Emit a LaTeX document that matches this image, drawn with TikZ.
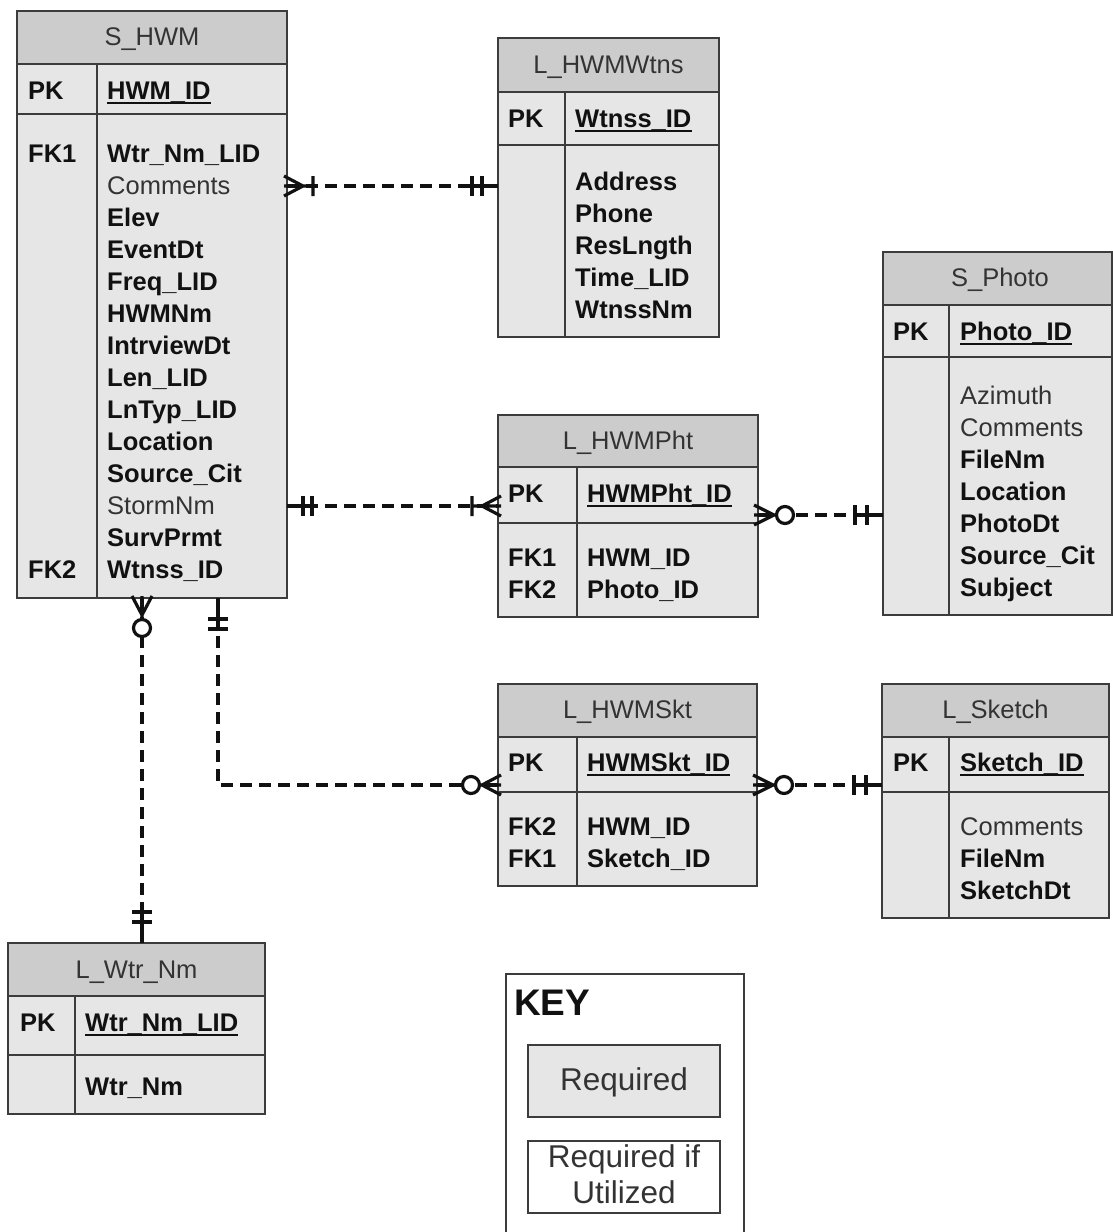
\documentclass[tikz,border=0pt]{standalone}
\usepackage{fontspec}
\setmainfont{Liberation Sans}
\usetikzlibrary{calc}
\definecolor{hdrc}{HTML}{CCCCCC}
\definecolor{bodyc}{HTML}{E6E6E6}
\definecolor{linec}{HTML}{3C3C3C}
\definecolor{txtc}{HTML}{111111}
\definecolor{regc}{HTML}{333333}
\definecolor{connc}{HTML}{111111}
\newcommand\bfl[1]{\textbf{\color{txtc}#1}}
\tikzset{
  tline/.style={draw=linec, line width=2.2pt},
  conn/.style={draw=connc, line width=3.2pt, dash pattern=on 12pt off 7pt},
  mk/.style={draw=connc, line width=3.2pt},
  ttl/.style={font=\fontsize{25.5}{30}\selectfont, text=regc, inner sep=0pt, anchor=base},
  fld/.style={font=\fontsize{25.5}{30}\selectfont\bfseries, text=txtc, inner sep=0pt, anchor=base west},
  rfld/.style={font=\fontsize{25.5}{30}\selectfont, text=regc, inner sep=0pt, anchor=base west},
  tbox/.style={fill=bodyc, inner sep=0pt, outer sep=0pt, anchor=north west},
  keytxt/.style={font=\fontsize{31.5}{36}\selectfont, text=regc, inner sep=0pt, anchor=base},
  uline/.style={draw=txtc, line width=2pt},
}
% #1 name, #2 x1, #3 top, #4 x2, #5 header bottom, #6 pk bottom, #7 bottom, #8 divider x
\newcommand\tbl[8]{%
  \node[tbox, minimum width={#4pt-#2pt}, minimum height={#7pt-#3pt}] (#1) at (#2,#3) {};
  \fill[hdrc] (#1.north west) rectangle (#1.east |- #2,#5);
  \draw[tline] (#1.west |- #2,#5) -- (#1.east |- #2,#5)
               (#1.west |- #2,#6) -- (#1.east |- #2,#6)
               (#8,#5) -- (#8,#7);
  \draw[tline] (#1.north west) rectangle (#1.south east);
}
\newcommand\fields[4]{%
  \foreach \t [count=\i from 0] in {#4} {\node[rfld] (#1-\i) at (#2, #3+32*\i) {\t};}}
\newcommand\pkline[1]{\draw[uline] ([yshift=-3.5pt]#1.base west) -- ([yshift=-3.5pt]#1.base east);}
\newcommand\relmark[3]{\begin{scope}[shift={(#1)},rotate=#2] #3 \end{scope}}
\begin{document}
\begin{tikzpicture}[x=1pt,y=-1pt]
\fill[white] (0,0) rectangle (1113,1232);
\path[use as bounding box, clip] (0,0) rectangle (1113,1232);

% ---------- S_HWM
\tbl{hwm}{17}{11}{287}{64}{114}{598}{97}
\node[ttl] (hwm-t) at (152,45) {S\_HWM};
\node[fld] (hwm-pk) at (28,99) {PK};
\node[fld] (hwm-id) at (107,99) {HWM\_ID};
\pkline{hwm-id}
\node[fld] (hwm-fk1) at (28,162) {FK1};
\node[fld] (hwm-fk2) at (28,578) {FK2};
\fields{hwm-f}{107}{162}{\bfl{Wtr\_Nm\_LID},Comments,\bfl{Elev},\bfl{EventDt},\bfl{Freq\_LID},\bfl{HWMNm},\bfl{IntrviewDt},\bfl{Len\_LID},\bfl{LnTyp\_LID},\bfl{Location},\bfl{Source\_Cit},StormNm,\bfl{SurvPrmt},\bfl{Wtnss\_ID}}

% ---------- L_HWMWtns
\tbl{wtn}{498}{38}{719}{92}{145}{337}{565}
\node[ttl] (wtn-t) at (608.5,73) {L\_HWMWtns};
\node[fld] (wtn-pk) at (508,127) {PK};
\node[fld] (wtn-id) at (575,127) {Wtnss\_ID};
\pkline{wtn-id}
\fields{wtn-f}{575}{190}{\bfl{Address},\bfl{Phone},\bfl{ResLngth},\bfl{Time\_LID},\bfl{WtnssNm}}

% ---------- S_Photo
\tbl{pho}{883}{252}{1112}{305}{357}{615}{949}
\node[ttl] (pho-t) at (1000,286) {S\_Photo};
\node[fld] (pho-pk) at (893,340) {PK};
\node[fld] (pho-id) at (960,340) {Photo\_ID};
\pkline{pho-id}
\fields{pho-f}{960}{404}{Azimuth,Comments,\bfl{FileNm},\bfl{Location},\bfl{PhotoDt},\bfl{Source\_Cit},\bfl{Subject}}

% ---------- L_HWMPht
\tbl{pht}{498}{415}{758}{467}{523}{617}{577}
\node[ttl] (pht-t) at (628,449) {L\_HWMPht};
\node[fld] (pht-pk) at (508,502) {PK};
\node[fld] (pht-id) at (587,502) {HWMPht\_ID};
\pkline{pht-id}
\node[fld] (pht-fk1) at (508,566) {FK1};
\node[fld] (pht-fk2) at (508,598) {FK2};
\fields{pht-f}{587}{566}{\bfl{HWM\_ID},\bfl{Photo\_ID}}

% ---------- L_HWMSkt
\tbl{skt}{498}{684}{757}{737}{792}{886}{577}
\node[ttl] (skt-t) at (627.5,718) {L\_HWMSkt};
\node[fld] (skt-pk) at (508,771) {PK};
\node[fld] (skt-id) at (587,771) {HWMSkt\_ID};
\pkline{skt-id}
\node[fld] (skt-fk2) at (508,835) {FK2};
\node[fld] (skt-fk1) at (508,867) {FK1};
\fields{skt-f}{587}{835}{\bfl{HWM\_ID},\bfl{Sketch\_ID}}

% ---------- L_Sketch
\tbl{skc}{882}{684}{1109}{737}{792}{918}{949}
\node[ttl] (skc-t) at (995.5,718) {L\_Sketch};
\node[fld] (skc-pk) at (893,771) {PK};
\node[fld] (skc-id) at (960,771) {Sketch\_ID};
\pkline{skc-id}
\fields{skc-f}{960}{835}{Comments,\bfl{FileNm},\bfl{SketchDt}}

% ---------- L_Wtr_Nm
\tbl{wnm}{8}{943}{265}{996}{1055}{1114}{75}
\node[ttl] (wnm-t) at (136.5,978) {L\_Wtr\_Nm};
\node[fld] (wnm-pk) at (20,1031) {PK};
\node[fld] (wnm-id) at (85,1031) {Wtr\_Nm\_LID};
\pkline{wnm-id}
\fields{wnm-f}{85}{1095}{\bfl{Wtr\_Nm}}

% ---------- KEY
\node[draw=linec, line width=2pt, fill=white, inner sep=0pt, anchor=north west,
      minimum width=238pt, minimum height=300pt] (key) at (505,973) {};
\node[font=\fontsize{37}{40}\selectfont\bfseries, text=txtc, inner sep=0pt, anchor=base west] (key-t) at (514,1015) {KEY};
\node[draw=linec, line width=2pt, fill=bodyc, inner sep=0pt, anchor=north west,
      minimum width=192pt, minimum height=72pt] (req) at (527,1044) {};
\node[keytxt] (req-t) at (req.center |- 0,1090) {Required};
\node[draw=linec, line width=2pt, fill=white, inner sep=0pt, anchor=north west,
      minimum width=192pt, minimum height=72pt] (reqif) at (527,1140) {};
\node[keytxt] (reqif-t1) at (reqif.center |- 0,1167) {Required if};
\node[keytxt] (reqif-t2) at (reqif.center |- 0,1203) {Utilized};

% ---------- connectors
\coordinate (c1a) at (hwm.east |- 0,186);  \coordinate (c1b) at (wtn.west |- 0,186);
\coordinate (c2a) at (hwm.east |- 0,506);  \coordinate (c2b) at (pht.west |- 0,506);
\coordinate (c3a) at (pht.east |- 0,515);  \coordinate (c3b) at (pho.west |- 0,515);
\coordinate (c4a) at (skt.east |- 0,785);  \coordinate (c4b) at (skc.west |- 0,785);
\coordinate (c5a) at (218,0 |- hwm.south); \coordinate (c5b) at (skt.west |- 0,785);
\coordinate (c6a) at (142,0 |- hwm.south); \coordinate (c6b) at (142,0 |- wnm.north);

\draw[conn] (c1a) -- (c1b);
\draw[conn] (c2a) -- (c2b);
\draw[conn] (c3a) -- (c3b);
\draw[conn] (c4a) -- (c4b);
\draw[conn] (c5a) |- (c5b);
\draw[conn] (c6a) -- (c6b);

% one-or-many (crow's foot + bar)
\relmark{c1a}{0}{\draw[mk] (-3,-10) -- (16,0) -- (-3,10) (-3,0) -- (26,0) (26,-10) -- (26,10);}
\relmark{c2b}{180}{\draw[mk] (-3,-10) -- (16,0) -- (-3,10) (-3,0) -- (26,0) (26,-10) -- (26,10);}
% one-and-only-one (double bar)
\relmark{c1b}{180}{\draw[mk] (0,0) -- (28,0) (16,-10) -- (16,10) (26,-10) -- (26,10);}
\relmark{c2a}{0}{\draw[mk] (0,0) -- (28,0) (16,-10) -- (16,10) (25,-10) -- (25,10);}
\relmark{c3b}{180}{\draw[mk] (0,0) -- (30,0) (16,-10) -- (16,10) (28,-10) -- (28,10);}
\relmark{c4b}{180}{\draw[mk] (0,0) -- (30,0) (16,-10) -- (16,10) (28,-10) -- (28,10);}
\relmark{c5a}{-90}{\draw[mk] (0,0) -- (33,0) (21,-10) -- (21,10) (31,-10) -- (31,10);}
\relmark{c6b}{90}{\draw[mk] (0,0) -- (33,0) (21,-10) -- (21,10) (31,-10) -- (31,10);}
% zero-or-many (crow's foot + circle)
\relmark{c3a}{0}{\draw[mk] (-4,-10) -- (16,0) -- (-4,10) (-4,0) -- (18,0); \draw[mk, fill=white] (27,0) circle (8.5);}
\relmark{c4a}{0}{\draw[mk] (-4,-10) -- (16,0) -- (-4,10) (-4,0) -- (18,0); \draw[mk, fill=white] (27,0) circle (8.5);}
\relmark{c5b}{180}{\draw[mk] (-3,-10) -- (16,0) -- (-3,10) (-3,0) -- (18,0); \draw[mk, fill=white] (27,0) circle (8.5);}
\relmark{c6a}{-90}{\draw[mk] (-2,-10) -- (17,0) -- (-2,10) (-2,0) -- (20,0); \draw[mk, fill=white] (30,0) circle (8.5);}
\end{tikzpicture}
\end{document}
